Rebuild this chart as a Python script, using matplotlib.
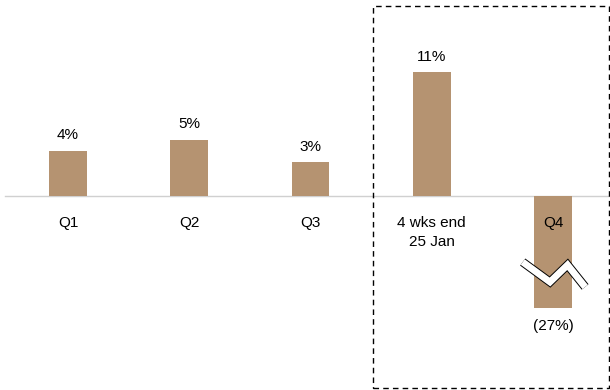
import matplotlib.pyplot as plt
import numpy as np
from matplotlib.patches import Rectangle

plt.rcParams['font.family'] = ['Liberation Sans', 'DejaVu Sans']

categories = ['Q1', 'Q2', 'Q3', '4 wks end\n25 Jan', 'Q4']
growth = [4, 5, 3, 11, -27]
value_labels = ['4%', '5%', '3%', '11%', '(27%)']
# Q4 is drawn with a broken bar, cut short at this depth
q4_cut = -9.9

bar_color = '#B59371'
px = 121.25  # pixels per category step
py = 11.27   # pixels per percentage point

fig = plt.figure(figsize=(6.1, 3.9), dpi=100)
ax = fig.add_axes([0, 0, 1, 1])
ax.set_xlim(-68 / px, (610 - 68) / px)
ax.set_ylim(-194 / py, 196 / py)
ax.axis('off')

x = np.arange(len(categories))
heights = [max(v, q4_cut) for v in growth]
ax.bar(x, heights, width=0.31, color=bar_color, zorder=2)
ax.plot([(5 - 68) / px, (610 - 68) / px], [0, 0], color='#D0D0D0', lw=1, zorder=1)

fs = 11
for xi, v, lab, cat in zip(x, heights, value_labels, categories):
    if v >= 0:
        ax.text(xi, v + 0.75, lab, ha='center', va='bottom', fontsize=fs)
        ax.text(xi, -1.75, cat, ha='center', va='top', fontsize=fs, linespacing=1.45)
    else:
        ax.text(xi, v - 1.0, lab, ha='center', va='top', fontsize=fs)
        ax.text(xi, -1.75, cat, ha='center', va='top', fontsize=fs, zorder=3)

# break marker across the Q4 bar
zx = np.array([3.75, 3.975, 4.12, 4.265])
zy = np.array([-5.86, -7.63, -6.12, -8.07])
ax.plot(zx, zy, color='black', lw=6.3, solid_capstyle='butt', solid_joinstyle='miter', zorder=4)
ax.plot(zx, zy, color='white', lw=4.9, solid_capstyle='butt', solid_joinstyle='miter', zorder=5)

# dashed frame around the latest period
box = Rectangle(((373 - 68) / px, (196 - 388) / py), (609 - 373) / px, (388 - 6) / py,
                fill=False, ls=(0, (4, 3)), lw=1, edgecolor='black', clip_on=False, zorder=6)
ax.add_patch(box)

fig.savefig('out.png', dpi=100)
